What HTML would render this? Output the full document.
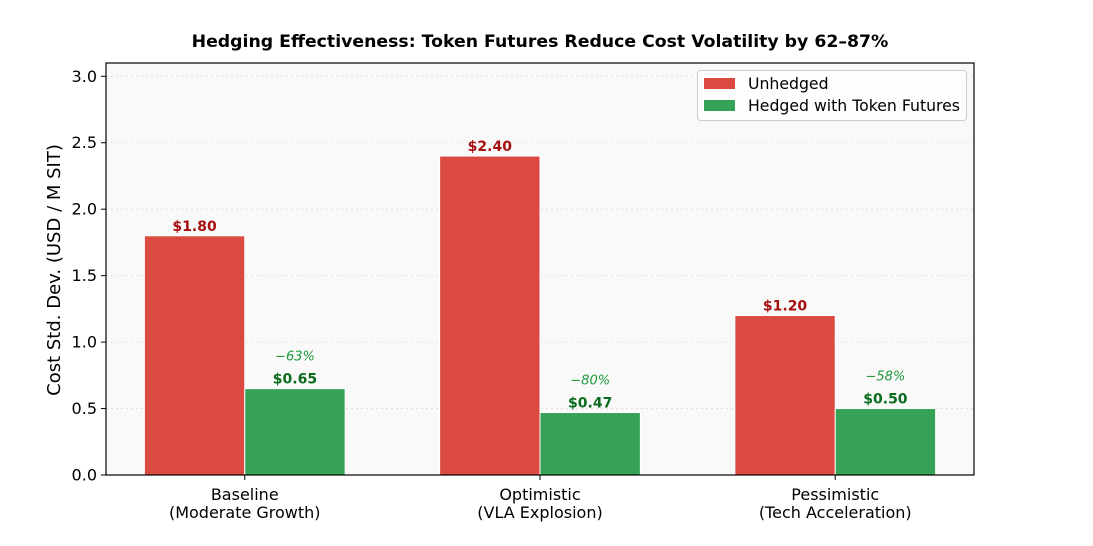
<!DOCTYPE html>
<html><head><meta charset="utf-8"><style>
body{margin:0;background:#fff}
svg text{font-family:"DejaVu Sans","Liberation Sans",sans-serif}
</style></head><body>
<svg id="chart" width="1093" height="541" xmlns="http://www.w3.org/2000/svg">
<text x="540" y="47" text-anchor="middle" font-size="17.3" font-weight="bold">Hedging Effectiveness: Token Futures Reduce Cost Volatility by 62–87%</text>
<rect x="106" y="63" width="868" height="412" fill="#f9f9f9"/>
<g id="grid"></g>
<g id="bars"></g>
<rect x="106" y="63" width="868" height="412" fill="none" stroke="#000" stroke-width="1.2"/>
<g id="axes"></g>
<text transform="translate(60,270) rotate(-90)" text-anchor="middle" font-size="18">Cost Std. Dev. (USD / M SIT)</text>
<g>
<rect x="697.5" y="70.5" width="269" height="50" rx="3" fill="#fff" fill-opacity="0.85" stroke="#ccc"/>
<g><rect x="704" y="78" width="31" height="11" fill="#db4a40"/><text x="748" y="89" font-size="15.7">Unhedged</text></g>
<g><rect x="704" y="100" width="31" height="11" fill="#36a255"/><text x="748" y="111" font-size="15.7">Hedged with Token Futures</text></g>
</g>
</svg>
<script>
const categories=["Baseline|(Moderate Growth)","Optimistic|(VLA Explosion)","Pessimistic|(Tech Acceleration)"];
const unhedged=[1.80,2.40,1.20];
const hedged=[0.65,0.47,0.50];
const reductions=["−63%","−80%","−58%"];
const yTicks=[0,0.5,1.0,1.5,2.0,2.5,3.0];
const NS="http://www.w3.org/2000/svg";
const x0=106,x1=974,y0=475,y1=63,xmin=-0.47,xmax=2.47,ymax=3.1;
const xs=v=>x0+(v-xmin)/(xmax-xmin)*(x1-x0);
const ys=v=>y0-v/ymax*(y0-y1);
function mk(tag,attrs,parent,txt){const e=document.createElementNS(NS,tag);for(const k in attrs)e.setAttribute(k,attrs[k]);if(txt!==undefined)e.textContent=txt;parent.appendChild(e);return e;}
const grid=document.getElementById('grid'),bars=document.getElementById('bars'),axes=document.getElementById('axes');
yTicks.forEach(t=>{
  const g=mk('line',{x1:x0,x2:x1,y1:ys(t),y2:ys(t),stroke:'#ddd','stroke-dasharray':'2,3','stroke-width':0.8},grid);
  
  
  mk('line',{x1:x0-5,x2:x0,y1:ys(t),y2:ys(t),stroke:'#000'},axes);
  const l=mk('text',{x:x0-9,y:ys(t)+5.5,'text-anchor':'end','font-size':16},axes,t.toFixed(1));
  
  
});
const w=0.34,bw=xs(w)-xs(0);
categories.forEach((c,i)=>{
  const xr=xs(i)-bw, xg=xs(i);
  const r=mk('rect',{x:xr,y:ys(unhedged[i]),width:bw,height:ys(0)-ys(unhedged[i]),fill:'#db4a40',stroke:'#fff','stroke-width':1},bars);
  
  
  const g=mk('rect',{x:xg,y:ys(hedged[i]),width:bw,height:ys(0)-ys(hedged[i]),fill:'#36a255',stroke:'#fff','stroke-width':1},bars);
  
  
  const lr=mk('text',{x:xr+bw/2,y:ys(unhedged[i])-5,'text-anchor':'middle','font-size':14,'font-weight':'bold',fill:'#a50f0f'},bars,'$'+unhedged[i].toFixed(2));
  
  
  const lg=mk('text',{x:xg+bw/2,y:ys(hedged[i])-5,'text-anchor':'middle','font-size':14,'font-weight':'bold',fill:'#0b6b1e'},bars,'$'+hedged[i].toFixed(2));
  
  
  const p=mk('text',{x:xg+bw/2,y:ys(hedged[i]+0.25)+5,'text-anchor':'middle','font-size':13,'font-style':'italic',fill:'#1f9a3a'},bars,reductions[i]);
  
  
  mk('line',{x1:xs(i),x2:xs(i),y1:y0,y2:y0+5,stroke:'#000'},axes);
  const parts=c.split('|');
  const t1=mk('text',{x:xs(i),y:500,'text-anchor':'middle','font-size':16},axes,parts[0]);
  
  
  const t2=mk('text',{x:xs(i),y:518,'text-anchor':'middle','font-size':16},axes,parts[1]);
  
  
});
</script>
</body></html>
